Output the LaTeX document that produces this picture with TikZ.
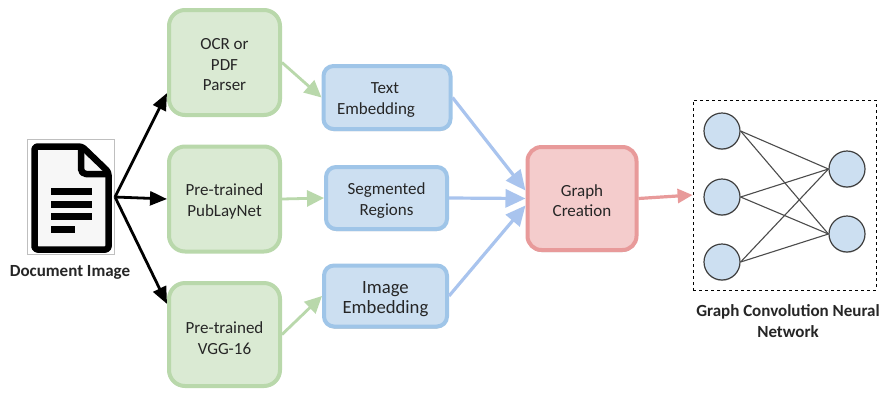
\documentclass[tikz,border=0pt]{standalone}
\usepackage{fontspec}
\setmainfont{Carlito}
\usetikzlibrary{arrows.meta,shadows}
\definecolor{gfill}{HTML}{DAEAD3}
\definecolor{gline}{HTML}{B9D8AB}
\definecolor{bfill}{HTML}{CCDFF1}
\definecolor{bline}{HTML}{9FC5E8}
\definecolor{barrow}{HTML}{A9C4EE}
\definecolor{rfill}{HTML}{F4CCCC}
\definecolor{rline}{HTML}{E89A9A}
\tikzset{
  x=1pt,y=-1pt,
  every node/.style={font=\fontsize{17}{20.5}\selectfont,align=center,inner sep=0pt,text=black!85},
  greenbox/.style={draw=gline,fill=gfill,line width=4pt,rounded corners=16pt,minimum width=111pt},
  bluebox/.style={draw=bline,fill=bfill,line width=4pt,rounded corners=10pt,
     drop shadow={shadow xshift=0pt,shadow yshift=-2pt,fill=black!45,opacity=.6}},
  redbox/.style={draw=rline,fill=rfill,line width=4pt,rounded corners=14pt,
     drop shadow={shadow xshift=0pt,shadow yshift=-2pt,fill=black!45,opacity=.6}},
  blackarrow/.style={draw=black,line width=2.8pt,-{Triangle[length=17pt,width=14pt]}},
  greenarrow/.style={draw=gline,line width=2.8pt,-{Triangle[length=17pt,width=16pt]}},
  bluearrow/.style={draw=barrow,line width=3.2pt,-{Triangle[length=20pt,width=18pt]}},
  redarrow/.style={draw=rline,line width=3.2pt,-{Triangle[length=15pt,width=14pt]}},
  neuron/.style={circle,draw=black!75,fill=bfill,line width=1.2pt,minimum size=36pt,
     drop shadow={shadow xshift=0pt,shadow yshift=-1pt,fill=black!30,opacity=.5}},
  edgeline/.style={draw=black!70,line width=1.1pt},
  caption/.style={font=\bfseries\fontsize{17}{21}\selectfont,text=black!85},
}
\begin{document}
\begin{tikzpicture}
\useasboundingbox (0,0) rectangle (880,392);
\fill[white] (0,0) rectangle (880,392);
% document icon
\draw[black!25,line width=.6pt,fill=white] (27,139.5) rectangle (114.5,254.5);
\draw[black,line width=6.5pt,fill=black!3,line join=round,rounded corners=3pt] (34.5,146.5) -- (82,146.5) -- (108.5,172) -- (108.5,249.5) -- (34.5,249.5) -- cycle;
\draw[black,line width=6.5pt,line join=round,rounded corners=5pt] (81,148) -- (81,174) -- (107,174);
\foreach \yy/\xe in {191/92,204/92,216/92,229/75}{\fill[black] (51,\yy-3.5) rectangle (\xe,\yy+3.5);}
\coordinate (src) at (115,197);
\node[caption] (doc) at (70,272) {Document Image};
% boxes
\node[greenbox,minimum height=105pt,label={[yshift=-2.5pt]center:{OCR or\\PDF\\Parser}}] (g1) at (224.5,62.5) {};
\node[greenbox,minimum height=105pt,label={[yshift=-2.5pt]center:{Pre-trained\\PubLayNet}}] (g2) at (224.5,199) {};
\node[greenbox,minimum height=103pt,label={[yshift=-3.5pt]center:{Pre-trained\\VGG-16}}] (g3) at (224.5,334.5) {};
\node[bluebox,minimum width=127pt,minimum height=63pt,label={[xshift=-11pt,yshift=-2.5pt]center:{\hspace*{18pt}Text\\Embedding}}] (b1) at (387,97.5) {};
\node[bluebox,minimum width=121pt,minimum height=62pt,label={[yshift=-2.5pt]center:{Segmented\\Regions}}] (b2) at (386.5,198) {};
\node[bluebox,minimum width=123pt,minimum height=61pt,label={[yshift=-3pt,font=\fontsize{18.7}{20.5}\selectfont]center:{Image\\Embedding}}] (b3) at (385.5,296) {};
\node[redbox,minimum width=109pt,minimum height=103pt,label={[yshift=-2pt]center:{Graph\\Creation}}] (r) at (582,198.5) {};
% network frame
\node[draw=black,dashed,line width=.8pt,minimum width=183pt,minimum height=190pt] (frame) at (784.5,195) {};
\node[neuron] (n1) at (722,131) {};
\node[neuron] (n2) at (722,197) {};
\node[neuron] (n3) at (722,262) {};
\node[neuron] (m1) at (847,169) {};
\node[neuron] (m2) at (847,234) {};
\foreach \a in {n1,n2,n3}\foreach \b in {m1,m2}{\draw[edgeline] (\a.east) -- (\b.west);}
\node[caption,anchor=north] (cap) at (788,304) {Graph Convolution Neural\\Network};
% connectors
\draw[blackarrow] (src) -- (g1.-152);
\draw[blackarrow] (src) -- (g2.west);
\draw[blackarrow] (src) -- (g3.152);
\draw[greenarrow] (g1.east) -- (b1.west);
\draw[greenarrow] (g2.east) -- (b2.west);
\draw[greenarrow] (g3.east) -- (b3.west);
\draw[bluearrow] (b1.east) -- (r.172);
\draw[bluearrow] (b2.east) -- (r.west);
\draw[bluearrow] (b3.east) -- (r.187);
\draw[redarrow] (r.east) -- (frame.west);
\end{tikzpicture}
\end{document}
